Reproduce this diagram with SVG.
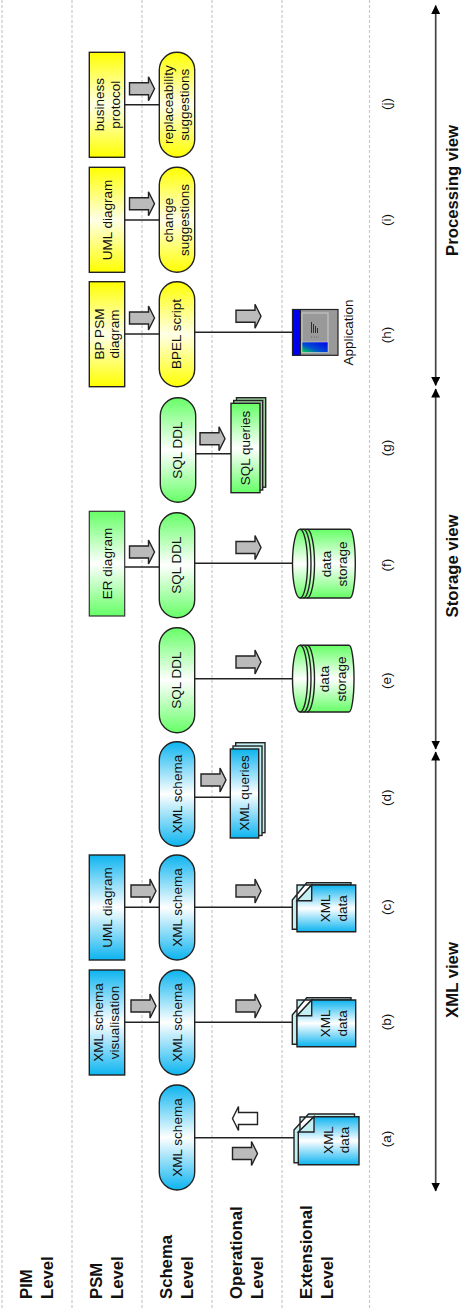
<svg xmlns="http://www.w3.org/2000/svg" width="465" height="1310" viewBox="0 0 465 1310">
<style>
text{font-family:"Liberation Sans",Arial,sans-serif;font-size:13.5px;fill:#111}
.m{text-anchor:middle}
.lvl{font-size:16.7px;font-weight:bold;text-anchor:start}
.view{font-size:16.7px;font-weight:bold;text-anchor:middle}
.dash{stroke:#c8c8c8;stroke-width:1.2;stroke-dasharray:3 2;fill:none}
.conn{stroke:#222;stroke-width:1.4;fill:none}
.big{stroke:#444;stroke-width:1.7;fill:none;marker-start:url(#mh);marker-end:url(#mh)}
.s{stroke:#222;stroke-width:1.4}
.sg{stroke:#333;stroke-width:1.2}
.blue{fill:url(#gb)}
.green{fill:url(#gg)}
.yellow{fill:url(#gy)}
.backb{fill:#c4f0f4}
.backg{fill:#9ed09e}
.ga{fill:#bbb;stroke:#222;stroke-width:1.4}
.wa{fill:#fff;stroke:#222;stroke-width:1.4}
</style>
<defs>
<linearGradient id="gb" x1="0" y1="0" x2="0" y2="1"><stop offset="0" stop-color="#0cb4f0"/><stop offset=".5" stop-color="#fff"/><stop offset="1" stop-color="#0cb4f0"/></linearGradient>
<linearGradient id="gg" x1="0" y1="0" x2="0" y2="1"><stop offset="0" stop-color="#66ff66"/><stop offset=".5" stop-color="#fff"/><stop offset="1" stop-color="#66ff66"/></linearGradient>
<linearGradient id="gy" x1="0" y1="0" x2="0" y2="1"><stop offset="0" stop-color="#ffff00"/><stop offset=".5" stop-color="#ffffe8"/><stop offset="1" stop-color="#ffff00"/></linearGradient>
<linearGradient id="gs" x1="1" y1="0" x2="0" y2="1"><stop offset="0" stop-color="#0000ee"/><stop offset=".6" stop-color="#0050d0"/><stop offset="1" stop-color="#00dd44"/></linearGradient>
<marker id="mh" markerUnits="userSpaceOnUse" markerWidth="10" markerHeight="10" refX="8.5" refY="4.5" orient="auto-start-reverse"><path d="M0,0 L9,4.5 L0,9 Z" fill="#000"/></marker>
<path id="arr" d="M0,-6 H19 V-12 L25,0 L19,12 V6 H0 Z"/>
<path id="arl" d="M25,-6 H6 V-12 L0,0 L6,12 V6 H25 Z"/>
</defs>

<g id="gridlines">
<path class="dash" d="M2,0V1308M72,0V1308M142,0V1308M212,0V1308M282,0V1308M369.500,0V1308"/>
</g>

<g id="level-labels">
<text class="lvl" transform="translate(32,1299) rotate(-90)">PIM</text>
<text class="lvl" transform="translate(53,1299) rotate(-90)">Level</text>
<text class="lvl" transform="translate(102,1299) rotate(-90)">PSM</text>
<text class="lvl" transform="translate(123,1299) rotate(-90)">Level</text>
<text class="lvl" transform="translate(172,1299) rotate(-90)">Schema</text>
<text class="lvl" transform="translate(193,1299) rotate(-90)">Level</text>
<text class="lvl" transform="translate(242,1299) rotate(-90)">Operational</text>
<text class="lvl" transform="translate(263,1299) rotate(-90)">Level</text>
<text class="lvl" transform="translate(312,1299) rotate(-90)">Extensional</text>
<text class="lvl" transform="translate(333,1299) rotate(-90)">Level</text>
</g>

<g id="connectors">
<path class="conn" d="M194.700,1137.700H294"/>
<path class="conn" d="M124.700,1022.300H159.300M194.700,1022.300H292"/>
<path class="conn" d="M124.700,907.300H159.300M194.700,907.300H292"/>
<path class="conn" d="M194.700,797.300H230"/>
<path class="conn" d="M194.700,678.700H292"/>
<path class="conn" d="M124.700,567H159.300M194.700,563.300H292"/>
<path class="conn" d="M195.700,453.700H231"/>
<path class="conn" d="M124.700,334H159.300M194.700,332.300H292"/>
<path class="conn" d="M124.700,220H159.300"/>
<path class="conn" d="M124.700,104.700H159.300"/>
</g>

<g id="flow-arrows">
<use href="#arr" class="ga" x="232.500" y="1153.500"/>
<use href="#arl" class="wa" x="232.500" y="1118.500"/>
<use href="#arr" class="ga" x="131" y="1006"/>
<use href="#arr" class="ga" x="236" y="1006"/>
<use href="#arr" class="ga" x="131" y="891"/>
<use href="#arr" class="ga" x="236" y="891"/>
<use href="#arr" class="ga" x="201" y="780"/>
<use href="#arr" class="ga" x="236" y="662"/>
<use href="#arr" class="ga" x="129.500" y="552"/>
<use href="#arr" class="ga" x="236" y="547.500"/>
<use href="#arr" class="ga" x="200" y="438.700"/>
<use href="#arr" class="ga" x="129.500" y="318"/>
<use href="#arr" class="ga" x="236" y="316.300"/>
<use href="#arr" class="ga" x="129.500" y="203.700"/>
<use href="#arr" class="ga" x="129.500" y="88.700"/>
</g>

<g id="a-schema"><rect class="blue s" x="159.300" y="1085" width="35.400" height="105" rx="17.700"/>
<text class="m" transform="translate(181.700,1137.500) rotate(-90)">XML schema</text></g>
<g id="a-data">
<path class="backb s" d="M294,1130 L308.500,1114 H354.500 V1117 H300 V1162.700 H294 Z"/>
<path class="blue s" d="M314,1116.700 H359 V1164.700 H298.300 V1132 Z"/>
<path class="backb s" d="M314,1116.700 V1132 H298.300 Z"/>
<text class="m" transform="translate(333,1140) rotate(-90)">XML</text>
<text class="m" transform="translate(349,1140) rotate(-90)">data</text></g>

<g id="b-vis"><rect class="blue s" x="89.300" y="970" width="35.400" height="105"/>
<text class="m" transform="translate(103,1022.500) rotate(-90)">XML schema</text>
<text class="m" transform="translate(119,1022.500) rotate(-90)">visualisation</text></g>
<g id="b-schema"><rect class="blue s" x="159.300" y="970" width="35.400" height="105" rx="17.700"/>
<text class="m" transform="translate(181.700,1022.500) rotate(-90)">XML schema</text></g>
<g id="b-data">
<path class="backb s" d="M292.300,1015 L306.700,997.700 H351 V1000 H297 V1044.300 H292.300 Z"/>
<path class="blue s" d="M311.700,1000 H355.700 V1046.700 H297 V1015.700 Z"/>
<path class="backb s" d="M311.700,1000 V1015.700 H297 Z"/>
<text class="m" transform="translate(330,1023.300) rotate(-90)">XML</text>
<text class="m" transform="translate(346.700,1023.300) rotate(-90)">data</text></g>

<g id="c-uml"><rect class="blue s" x="89.300" y="855" width="35.400" height="105"/>
<text class="m" transform="translate(112.300,907.500) rotate(-90)">UML diagram</text></g>
<g id="c-schema"><rect class="blue s" x="159.300" y="855" width="35.400" height="105" rx="17.700"/>
<text class="m" transform="translate(181.700,907.500) rotate(-90)">XML schema</text></g>
<g id="c-data">
<path class="backb s" d="M292.300,900 L306.700,882.700 H351 V885 H297 V929.300 H292.300 Z"/>
<path class="blue s" d="M311.700,885 H355.700 V931.700 H297 V900.700 Z"/>
<path class="backb s" d="M311.700,885 V900.700 H297 Z"/>
<text class="m" transform="translate(330,908.300) rotate(-90)">XML</text>
<text class="m" transform="translate(346.700,908.300) rotate(-90)">data</text></g>

<g id="d-schema"><rect class="blue s" x="159.300" y="741.700" width="35.400" height="104.600" rx="17.700"/>
<text class="m" transform="translate(181.700,794) rotate(-90)">XML schema</text></g>
<g id="d-queries">
<rect class="backb s" x="235.700" y="742.700" width="29.300" height="90"/>
<rect class="backb s" x="233" y="746" width="29" height="89.500"/>
<rect class="blue s" x="230.300" y="749" width="28.400" height="89"/>
<text class="m" transform="translate(249.300,793) rotate(-90)">XML queries</text></g>

<g id="e-sql"><rect class="green s" x="159.300" y="627.700" width="35.400" height="105" rx="17.700"/>
<text class="m" transform="translate(181,680) rotate(-90)">SQL DDL</text></g>
<g id="e-storage">
<path class="green s" d="M300,645.300 H349 A5,33.350 0 0 1 349,712 H300 A7.500,33.350 0 0 1 300,645.300 Z"/>
<path class="s" fill="none" d="M300,645.300 A7.500,33.350 0 0 1 300,712 M303.500,645.300 A7.500,33.350 0 0 1 303.500,712 M307,645.300 A7.500,33.350 0 0 1 307,712"/>
<text class="m" transform="translate(329.300,679) rotate(-90)">data</text>
<text class="m" transform="translate(346,679) rotate(-90)">storage</text></g>

<g id="f-er"><rect class="green sg" x="89.300" y="511.300" width="35.400" height="104.700"/>
<text class="m" transform="translate(112,563.500) rotate(-90)">ER diagram</text></g>
<g id="f-sql"><rect class="green s" x="159.300" y="512.700" width="35.400" height="105" rx="17.700"/>
<text class="m" transform="translate(181,565) rotate(-90)">SQL DDL</text></g>
<g id="f-storage">
<path class="green s" d="M300,529.300 H350 A5.300,34.350 0 0 1 350,598 H300 A7.500,34.350 0 0 1 300,529.300 Z"/>
<path class="s" fill="none" d="M300,529.300 A7.500,34.350 0 0 1 300,598 M303.500,529.300 A7.500,34.350 0 0 1 303.500,598 M307,529.300 A7.500,34.350 0 0 1 307,598"/>
<text class="m" transform="translate(330.700,564) rotate(-90)">data</text>
<text class="m" transform="translate(346.700,564) rotate(-90)">storage</text></g>

<g id="g-sql"><rect class="green s" x="160.300" y="397.700" width="35.400" height="104.600" rx="17.700"/>
<text class="m" transform="translate(181.700,450) rotate(-90)">SQL DDL</text></g>
<g id="g-queries">
<rect class="backg s" x="236.500" y="397.700" width="29.200" height="89.500"/>
<rect class="backg s" x="233.700" y="400.500" width="29" height="89.500"/>
<rect class="green s" x="231" y="403.300" width="29" height="89.400"/>
<text class="m" transform="translate(250,448) rotate(-90)">SQL queries</text></g>

<g id="h-bp"><rect class="yellow s" x="89.300" y="281.700" width="35.400" height="105"/>
<text class="m" transform="translate(104,334) rotate(-90)">BP PSM</text>
<text class="m" transform="translate(119.300,334) rotate(-90)">diagram</text></g>
<g id="h-bpel"><rect class="yellow s" x="159.300" y="281.700" width="35.400" height="105" rx="17.700"/>
<text class="m" transform="translate(181,334) rotate(-90)">BPEL script</text></g>
<g id="h-app">
<rect x="292.500" y="309.500" width="45.500" height="45.800" fill="#999" stroke="#222" stroke-width="1.200"/>
<rect x="292.500" y="309.500" width="8" height="45.800" fill="#0000ee" stroke="#222" stroke-width="1"/>
<rect x="302" y="313" width="26" height="39.500" fill="none" stroke="#ccc" stroke-width="1"/>
<rect x="302" y="342" width="26" height="10.500" fill="url(#gs)" stroke="#ccc" stroke-width=".6"/>
<path fill="none" stroke="#222" stroke-width=".9" d="M311.500,322V333M313.500,324V333M315.500,326V333M317.500,328V333"/>
<path fill="none" stroke="#666" stroke-width="1" stroke-dasharray="1 1.500" d="M311,337H319"/>
<text class="m" transform="translate(353.300,332.500) rotate(-90)">Application</text></g>

<g id="i-uml"><rect class="yellow s" x="89.300" y="167.300" width="35.400" height="105"/>
<text class="m" transform="translate(112,220) rotate(-90)">UML diagram</text></g>
<g id="i-change"><rect class="yellow s" x="159.300" y="167.300" width="35.400" height="105" rx="17.700"/>
<text class="m" transform="translate(173,220) rotate(-90)">change</text>
<text class="m" transform="translate(189,220) rotate(-90)">suggestions</text></g>

<g id="j-business"><rect class="yellow s" x="89.300" y="52.300" width="35.400" height="105"/>
<text class="m" transform="translate(104,104.700) rotate(-90)">business</text>
<text class="m" transform="translate(120,104.700) rotate(-90)">protocol</text></g>
<g id="j-replace"><rect class="yellow s" x="159.300" y="52.300" width="35.400" height="105" rx="17.700"/>
<text class="m" transform="translate(173,104.700) rotate(-90)">replaceability</text>
<text class="m" transform="translate(189.300,104.700) rotate(-90)">suggestions</text></g>

<g id="case-labels">
<text class="m" transform="translate(391,1139) rotate(-90)">(a)</text>
<text class="m" transform="translate(391,1022) rotate(-90)">(b)</text>
<text class="m" transform="translate(391,907) rotate(-90)">(c)</text>
<text class="m" transform="translate(391,797.700) rotate(-90)">(d)</text>
<text class="m" transform="translate(391,680.700) rotate(-90)">(e)</text>
<text class="m" transform="translate(391,565) rotate(-90)">(f)</text>
<text class="m" transform="translate(391,448) rotate(-90)">(g)</text>
<text class="m" transform="translate(391,335) rotate(-90)">(h)</text>
<text class="m" transform="translate(391,220) rotate(-90)">(i)</text>
<text class="m" transform="translate(391,104) rotate(-90)">(j)</text>
</g>

<g id="views">
<path class="big" d="M435.700,5.500V385.500"/>
<path class="big" d="M435.700,389V749"/>
<path class="big" d="M435.700,752V1191"/>
<text class="view" transform="translate(458,190.500) rotate(-90)">Processing view</text>
<text class="view" transform="translate(458,566) rotate(-90)">Storage view</text>
<text class="view" transform="translate(458,980) rotate(-90)">XML view</text>
</g>
</svg>
